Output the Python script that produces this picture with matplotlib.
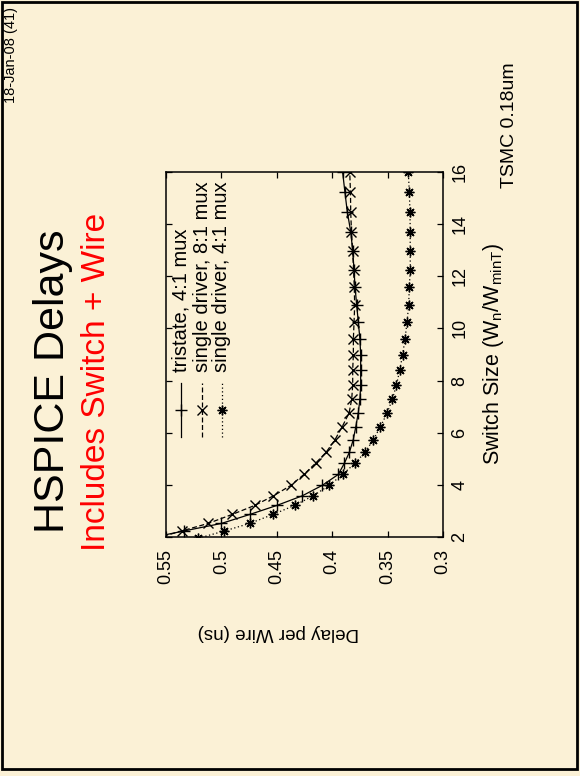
import matplotlib
matplotlib.use("Agg")
import matplotlib.pyplot as plt
from matplotlib.lines import Line2D
from matplotlib.patches import Rectangle

plt.rcParams['font.family'] = ['Liberation Sans', 'DejaVu Sans']
plt.rcParams['mathtext.fontset'] = 'custom'
plt.rcParams['mathtext.rm'] = 'Liberation Sans'
plt.rcParams['mathtext.it'] = 'Liberation Sans:italic'

# Switch size (Wn/WminT) sample points, shared by all three series
switch_size = [1.95, 2.23, 2.52, 2.87, 3.21, 3.58, 3.98, 4.40, 4.83, 5.25,
               5.73, 6.23, 6.75, 7.28, 7.83, 8.41, 9.00, 9.59, 10.23, 10.89,
               11.60, 12.25, 12.98, 13.71, 14.48, 15.22, 16.00]

# Delay per wire (ns)
tristate_4 = [0.566, 0.534, 0.500, 0.474, 0.450, 0.427, 0.409, 0.3945, 0.389, 0.3845,
              0.381, 0.3787, 0.3765, 0.375, 0.3743, 0.3743, 0.3743, 0.375, 0.3764, 0.3779,
              0.3794, 0.3803, 0.3815, 0.3833, 0.3864, 0.3885, 0.3906]
single_8 = [0.559, 0.536, 0.512, 0.490, 0.470, 0.453, 0.4373, 0.4255, 0.415, 0.4055,
            0.3975, 0.391, 0.3848, 0.3824, 0.3815, 0.3815, 0.3809, 0.3809, 0.3803, 0.3797,
            0.3801, 0.3807, 0.3816, 0.3826, 0.3833, 0.3835, 0.3842]
single_4 = [0.521, 0.4974, 0.4745, 0.4532, 0.434, 0.4172, 0.4027, 0.3906, 0.3794, 0.3704,
            0.3629, 0.3565, 0.3505, 0.3457, 0.342, 0.339, 0.3364, 0.3343, 0.3325, 0.331,
            0.3304, 0.3295, 0.3296, 0.3296, 0.3298, 0.3304, 0.3313]

series_labels = ['tristate, 4:1 mux', 'single driver, 8:1 mux', 'single driver, 4:1 mux']

delay_ticks = [0.55, 0.5, 0.45, 0.4, 0.35, 0.3]
delay_ticklabels = ['0.55', '0.5', '0.45', '0.4', '0.35', '0.3']
size_ticks = [2, 4, 6, 8, 10, 12, 14, 16]

bg = '#fbf1d6'
fig = plt.figure(figsize=(5.8, 7.76), dpi=100, facecolor=bg)

# The whole slide is turned on its side: delay runs left->right (inverted),
# switch size runs bottom->top
ax = fig.add_axes([166/580, 1-537/776, 277/580, 365/776])
ax.set_facecolor('none')

styles = [
    dict(ls='-', marker='+', ms=8),
    dict(ls=(0, (4, 2)), marker='x', ms=7),
    dict(ls=(0, (1, 2)), marker=(8, 2, 0), ms=7),
]
for d, st in zip([tristate_4, single_8, single_4], styles):
    ax.plot(d, switch_size, color='black', lw=0.9, mew=1.0, **st)

ax.set_xlim(0.55, 0.3)
ax.set_ylim(2, 16)
ax.set_xticks(delay_ticks)
ax.set_xticklabels(delay_ticklabels, rotation=90, va='top')
ax.set_yticks(size_ticks)
ax.set_yticklabels([str(s) for s in size_ticks], rotation=90, va='center')
ax.tick_params(direction='in', length=4, width=0.9, top=True, bottom=True,
               left=True, right=True, labelleft=False, labelright=True,
               labelsize=13, colors='black')
ax.tick_params(axis='x', pad=9)
ax.tick_params(axis='y', pad=6)
for sp in ax.spines.values():
    sp.set_linewidth(1.1)

ax.yaxis.set_label_position('right')
ax.set_ylabel(r'Switch Size (W$_\mathrm{n}$/W$_\mathrm{minT}$)', fontsize=15.5,
              rotation=90, labelpad=9)

# legend, drawn sideways to match the turned slide
key_x = [0.054, 0.130, 0.202]
for kx, st, lab in zip(key_x, styles, series_labels):
    ax.add_line(Line2D([kx, kx], [0.274, 0.422], transform=ax.transAxes,
                       color='black', lw=0.9, ls=st['ls']))
    ax.add_line(Line2D([kx], [0.348], transform=ax.transAxes, color='black',
                       marker=st['marker'], ms=st['ms'], mew=1.0, ls='none'))
    ax.text(kx, 0.452, lab, transform=ax.transAxes, rotation=90,
            rotation_mode='anchor', ha='left', va='center', fontsize=14.5)

# slide texts
fig.text(53/580, 1-381/776, 'HSPICE Delays', rotation=90, fontsize=31,
         ha='center', va='center')
fig.text(97/580, 1-382/776, 'Includes Switch + Wire', rotation=90, fontsize=24,
         color='#ff0000', ha='center', va='center')
fig.text(278/580, 1-632/776, 'Delay per Wire (ns)', rotation=180, fontsize=13.5,
         ha='center', va='center')
fig.text(510/580, 1-125/776, 'TSMC 0.18um', rotation=90, fontsize=14,
         ha='center', va='center')
fig.text(11/580, 1-55/776, '18-Jan-08 (41)', rotation=90, fontsize=10.5,
         ha='center', va='center')

fig.add_artist(Rectangle((2/580, 1-769/776), 575/580, 767/776,
                         transform=fig.transFigure, fill=False,
                         edgecolor='black', lw=2))

fig.savefig('out.png', dpi=100, facecolor=bg)
